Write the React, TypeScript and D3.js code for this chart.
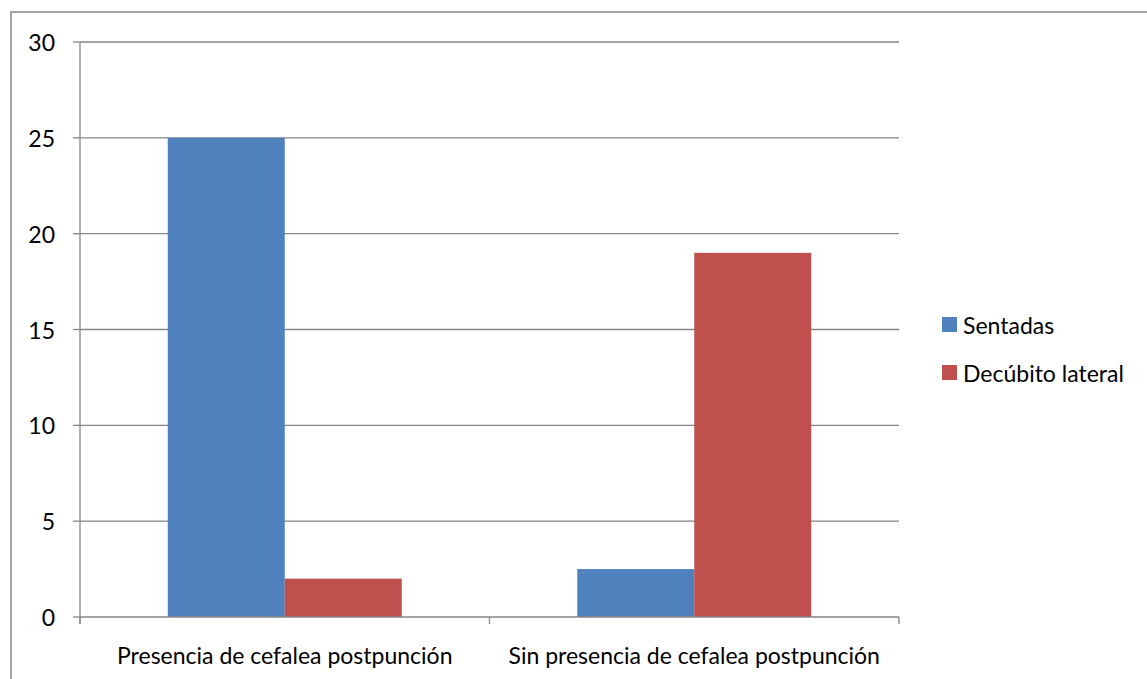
import React from "react";
import * as d3 from "d3";

const categories = ["Presencia de cefalea postpunción", "Sin presencia de cefalea postpunción"];
const seriesNames = ["Sentadas", "Decúbito lateral"];
const sentadas = [25, 2.5];
const decubito = [2, 19];
const yTicks = [0, 5, 10, 15, 20, 25, 30];
const colors = ["#4F81BD", "#C0504D"];

const W = 1147;
const H = 679;
const plot = { left: 80, right: 899, top: 42, bottom: 617 };
const FONT = "Lato, 'Open Sans', sans-serif";
const FS = 23;

export default function App() {
  const x0 = d3.scaleBand<string>().domain(categories).range([plot.left, plot.right]).paddingInner(0).paddingOuter(0);
  const x1 = d3
    .scaleBand<string>()
    .domain(seriesNames)
    .range([0, x0.bandwidth()])
    .paddingInner(0)
    .paddingOuter(0.75);
  const y = d3.scaleLinear().domain([0, 30]).range([plot.bottom, plot.top]);
  const series = [sentadas, decubito];
  const grid = "#868686";

  return (
    <div style={{ position: "absolute", left: 0, top: 0 }}>
      <svg width={W} height={H} style={{ display: "block", background: "#fff" }}>
        <rect x={11} y={12} width={W + 20} height={H + 20} fill="#fff" stroke={grid} strokeWidth={1.5} />
        {yTicks.map((t) => (
          <g key={t}>
            {t > 0 && <line x1={plot.left} x2={plot.right} y1={y(t)} y2={y(t)} stroke={grid} strokeWidth={1.3} />}
            <line x1={plot.left - 7} x2={plot.left} y1={y(t)} y2={y(t)} stroke={grid} strokeWidth={1.3} />
            <text x={55} y={y(t)} textAnchor="end" dominantBaseline="central" fontFamily={FONT} fontSize={FS} fill="#000">
              {t}
            </text>
          </g>
        ))}
        {categories.map((c, ci) =>
          series.map((s, si) => (
            <rect
              key={c + si}
              x={(x0(c) as number) + (x1(seriesNames[si]) as number)}
              y={y(s[ci])}
              width={x1.bandwidth()}
              height={y(0) - y(s[ci])}
              fill={colors[si]}
            />
          ))
        )}
        <line x1={plot.left} x2={plot.left} y1={plot.top} y2={plot.bottom + 7} stroke={grid} strokeWidth={1.3} />
        <line x1={plot.left} x2={plot.right} y1={plot.bottom} y2={plot.bottom} stroke={grid} strokeWidth={1.3} />
        {[...categories.map((c) => x0(c) as number), plot.right].map((xv, i) => (
          <line key={i} x1={xv} x2={xv} y1={plot.bottom} y2={plot.bottom + 7} stroke={grid} strokeWidth={1.3} />
        ))}
        {categories.map((c) => (
          <text
            key={c}
            x={(x0(c) as number) + x0.bandwidth() / 2}
            y={655}
            textAnchor="middle"
            dominantBaseline="central"
            fontFamily={FONT}
            fontSize={FS}
            fill="#000"
          >
            {c}
          </text>
        ))}
        {seriesNames.map((n, i) => (
          <g key={n} transform={`translate(942, ${324.5 + i * 48})`}>
            <rect x={0} y={-7.5} width={15} height={15} fill={colors[i]} />
            <text x={21} y={0} dominantBaseline="central" fontFamily={FONT} fontSize={FS} fill="#000">
              {n}
            </text>
          </g>
        ))}
      </svg>
    </div>
  );
}
